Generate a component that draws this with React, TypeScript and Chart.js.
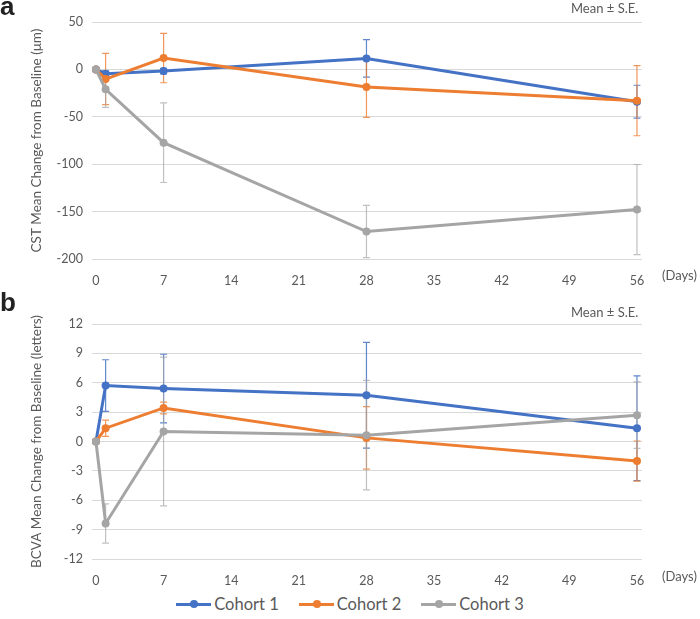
import React, { useEffect, useRef } from "react";
import { Chart, registerables } from "chart.js";

Chart.register(...registerables);

const days = [0, 1, 7, 28, 56];
const xTicks = [0, 7, 14, 21, 28, 35, 42, 49, 56];
const seriesNames = ["Cohort 1", "Cohort 2", "Cohort 3"];
const seriesColors = ["#4472C4", "#ED7D31", "#A5A5A5"];
const errorColors = ["rgba(68,114,196,0.85)", "rgba(237,125,49,0.8)", "rgba(165,165,165,0.7)"];

const cstC1 = [0, -4.5, -1.8, 11.6, -34.1];
const cstC1Se = [0, 3, 3, 19.8, 17.4];
const cstC2 = [0, -10.2, 11.9, -18.6, -33];
const cstC2Se = [0, 27, 26, 32, 37];
const cstC3 = [0, -21, -77.3, -171, -147.8];
const cstC3Se = [0, 19, 42, 27.5, 47.5];
const cstTicks = { min: -200, max: 50, step: 50 };

const bcvaC1 = [0, 5.71, 5.41, 4.73, 1.36];
const bcvaC1Se = [0, 2.64, 3.5, 5.4, 5.35];
const bcvaC2 = [0, 1.36, 3.43, 0.37, -2.0];
const bcvaC2Se = [0, 0.83, 0.6, 3.2, 2.05];
const bcvaC3 = [0, -8.37, 1.02, 0.65, 2.69];
const bcvaC3Se = [0, 2.0, 7.6, 5.6, 3.4];
const bcvaTicks = { min: -12, max: 12, step: 3 };

const FONT = "Lato, 'Open Sans', sans-serif";
const TXT = "#595959";

const errorBarPlugin = {
  id: "errorBars",
  beforeDatasetsDraw(chart: any) {
    const ctx = chart.ctx;
    const xs = chart.scales.x;
    const ys = chart.scales.y;
    chart.data.datasets.forEach((ds: any) => {
      const errs: number[] = ds.errors || [];
      ctx.save();
      ctx.strokeStyle = ds.errorColor;
      ctx.lineWidth = 1.2;
      ds.data.forEach((pt: any, i: number) => {
        const e = errs[i];
        if (!e) return;
        const x = xs.getPixelForValue(pt.x);
        const y1 = ys.getPixelForValue(pt.y + e);
        const y2 = ys.getPixelForValue(pt.y - e);
        ctx.beginPath();
        ctx.moveTo(x, y1);
        ctx.lineTo(x, y2);
        ctx.moveTo(x - 3.5, y1);
        ctx.lineTo(x + 3.5, y1);
        ctx.moveTo(x - 3.5, y2);
        ctx.lineTo(x + 3.5, y2);
        ctx.stroke();
      });
      ctx.restore();
    });
  },
};

function makeConfig(values: number[][], errs: number[][], range: any, title: string, titlePad: number, topPad: number) {
  return {
    type: "line" as const,
    data: {
      datasets: values.map((vals, k) => ({
        label: seriesNames[k],
        data: days.map((d, i) => ({ x: d, y: vals[i] })),
        errors: errs[k],
        errorColor: errorColors[k],
        borderColor: seriesColors[k],
        backgroundColor: seriesColors[k],
        borderWidth: 3,
        pointRadius: 4,
        pointHoverRadius: 4,
        pointBorderWidth: 0,
        tension: 0,
        order: 3 - k,
      })),
    },
    options: {
      animation: false,
      responsive: false,
      maintainAspectRatio: false,
      layout: { padding: { top: topPad, right: 58, left: 0, bottom: 0 } },
      plugins: { legend: { display: false }, tooltip: { enabled: false } },
      scales: {
        x: {
          type: "linear",
          min: -0.41,
          max: 56.52,
          grid: { display: false },
          border: { display: false },
          afterBuildTicks: (s: any) => {
            s.ticks = xTicks.map((v) => ({ value: v }));
          },
          afterFit: (s: any) => {
            s.height = 31;
          },
          ticks: {
            color: TXT,
            font: { family: FONT, size: 12.5 },
            padding: 6,
            maxRotation: 0,
            autoSkip: false,
          },
        },
        y: {
          type: "linear",
          min: range.min,
          max: range.max,
          grid: { color: "#D9D9D9", lineWidth: 1, drawTicks: false },
          border: { display: false },
          afterFit: (s: any) => {
            s.width = 92;
          },
          ticks: {
            stepSize: range.step,
            color: TXT,
            font: { family: FONT, size: 12.5 },
            padding: 9,
          },
          title: {
            display: true,
            text: title,
            color: TXT,
            font: { family: FONT, size: 13.5 },
            padding: { top: titlePad, bottom: 0 },
          },
        },
      },
    },
    plugins: [errorBarPlugin],
  };
}

function Panel({ values, errs, range, title, height, topPad }: any) {
  const ref = useRef<HTMLCanvasElement>(null);
  useEffect(() => {
    const chart = new Chart(ref.current as HTMLCanvasElement, makeConfig(values, errs, range, title, 29, topPad) as any);
    return () => chart.destroy();
  }, []);
  return <canvas ref={ref} width={700} height={height} style={{ display: "block", width: 700, height }} />;
}

const abs = (o: any) => ({ position: "absolute" as const, ...o });

export default function App() {
  return (
    <div style={{ position: "fixed", left: 0, top: 0, width: 700, height: 619, background: "#fff", overflow: "hidden", fontFamily: FONT }}>
      <div style={abs({ left: 0, top: 0 })}>
        <Panel values={[cstC1, cstC2, cstC3]} errs={[cstC1Se, cstC2Se, cstC3Se]} range={cstTicks} title="CST Mean Change from Baseline (μm)" height={290} topPad={22} />
      </div>
      <div style={abs({ left: 0, top: 290 })}>
        <Panel values={[bcvaC1, bcvaC2, bcvaC3]} errs={[bcvaC1Se, bcvaC2Se, bcvaC3Se]} range={bcvaTicks} title="BCVA Mean Change from Baseline (letters)" height={300} topPad={34} />
      </div>
      <div style={abs({ left: 0, top: -9, fontFamily: "'Liberation Sans', Arial, sans-serif", fontWeight: 700, fontSize: 26, color: "#222" })}>a</div>
      <div style={abs({ left: 0, top: 287, fontFamily: "'Liberation Sans', Arial, sans-serif", fontWeight: 700, fontSize: 26, color: "#222" })}>b</div>
      <div style={abs({ left: 571, top: 0, fontSize: 13, color: TXT, whiteSpace: "nowrap" })}>Mean ± S.E.</div>
      <div style={abs({ left: 571, top: 304, fontSize: 13, color: TXT, whiteSpace: "nowrap" })}>Mean ± S.E.</div>
      <div style={abs({ left: 662, top: 267, fontSize: 13, color: TXT, whiteSpace: "nowrap" })}>(Days)</div>
      <div style={abs({ left: 662, top: 568, fontSize: 13, color: TXT, whiteSpace: "nowrap" })}>(Days)</div>
      <div style={abs({ left: 0, top: 593, width: 700, display: "flex", justifyContent: "center", gap: 20 })}>
        {seriesNames.map((n, k) => (
          <div key={n} style={{ display: "flex", alignItems: "center" }}>
            <div style={{ position: "relative", width: 35, height: 3, background: seriesColors[k], marginRight: 3 }}>
              <div style={{ position: "absolute", left: 14, top: -2.5, width: 8, height: 8, borderRadius: 4, background: seriesColors[k] }} />
            </div>
            <span style={{ fontSize: 16.5, color: TXT, lineHeight: "22px" }}>{n}</span>
          </div>
        ))}
      </div>
    </div>
  );
}
